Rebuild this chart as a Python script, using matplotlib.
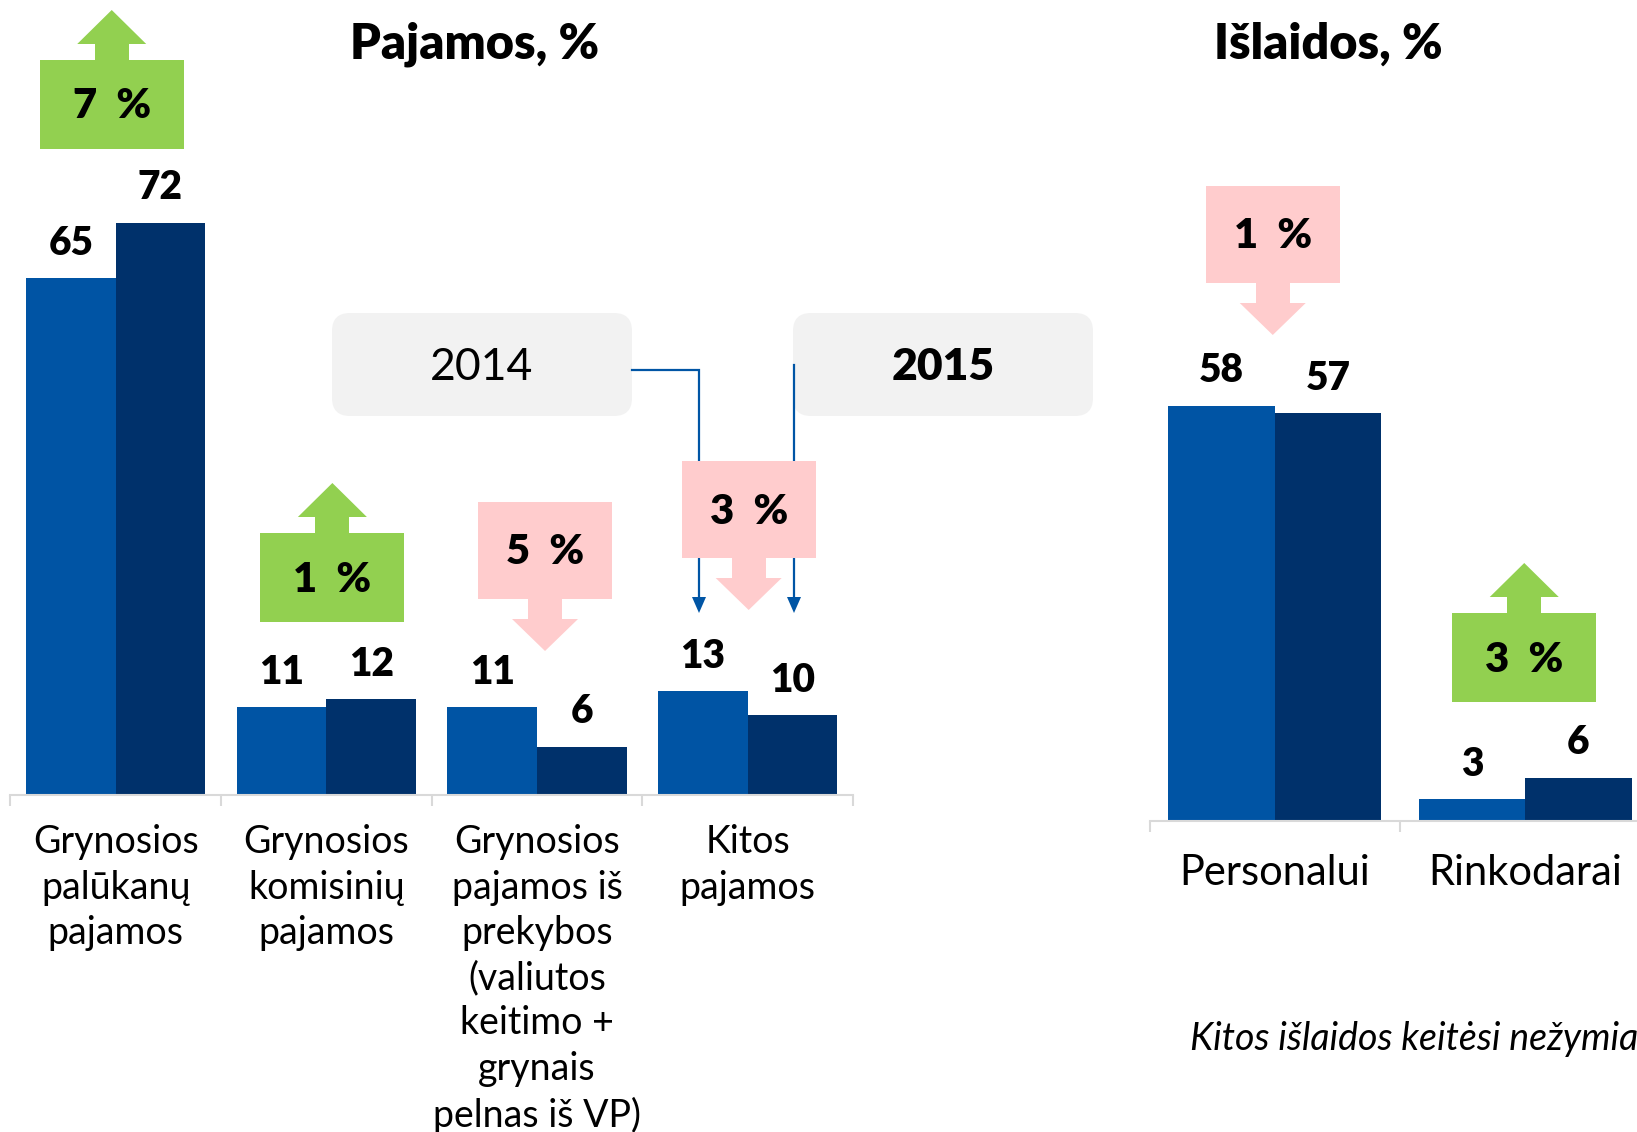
import matplotlib
matplotlib.use("Agg")
import matplotlib.pyplot as plt
from matplotlib.patches import Polygon, Rectangle, FancyBboxPatch
import numpy as np

plt.rcParams['font.family'] = ['Lato', 'DejaVu Sans']

# ---------------- data ----------------
income_categories = ["Grynosios\npalūkanų\npajamos",
                     "Grynosios\nkomisinių\npajamos",
                     "Grynosios\npajamos iš\nprekybos\n(valiutos\nkeitimo +\ngrynais\npelnas iš VP)",
                     "Kitos\npajamos"]
income_2014 = [65, 11, 11, 13]
income_2015 = [72, 12, 6, 10]
income_change = ["7 %", "1 %", "5 %", "3 %"]
income_dir = ["up", "up", "down", "down"]

expense_categories = ["Personalui", "Rinkodarai"]
expense_2014 = [58, 3]
expense_2015 = [57, 6]
expense_change = ["1 %", "3 %"]
expense_dir = ["down", "up"]

years = ["2014", "2015"]
titles = ["Pajamos, %", "Išlaidos, %"]
note = "Kitos išlaidos keitėsi nežymiai"

# ---------------- style ----------------
W, H = 1637, 1132
C14 = "#0054A4"
C15 = "#00316B"
GREEN = "#92D050"
PINK = "#FFCCCD"
AXC = "#D9D9D9"
LINEC = "#0055A5"
BW = 0.425
HEAVY = "heavy"

fig = plt.figure(figsize=(W / 100, H / 100), dpi=100)

def fx(px):
    return px / W

def fy(py_top):
    return (H - py_top) / H

# income axes: x 10.4..853 px, baseline 794.5 px, 7.94 px/unit
ax1 = fig.add_axes([fx(10.4), fy(794.5), (853 - 10.4) / W, 794 / H])
# expense axes: x 1149.5..1650.5 px, baseline 820.6 px, 7.15 px/unit
ax2 = fig.add_axes([fx(1149.5), fy(820.6), 501 / W, 715 / H])


def draw_bars(ax, cats, v14, v15, fs, pad, ls):
    x = np.arange(len(cats))
    ax.bar(x - BW / 2, v14, BW, color=C14, zorder=2)
    ax.bar(x + BW / 2, v15, BW, color=C15, zorder=2)
    for xi, a, b in zip(x, v14, v15):
        ax.annotate(str(a), (xi - BW / 2, a), xytext=(0, 35), textcoords="offset pixels",
                    ha="center", va="center", fontsize=28, fontweight=HEAVY, color="black")
        ax.annotate(str(b), (xi + BW / 2, b), xytext=(0, 35), textcoords="offset pixels",
                    ha="center", va="center", fontsize=28, fontweight=HEAVY, color="black")
    ax.set_xlim(-0.5, len(cats) - 0.5)
    ax.set_ylim(0, 100)
    for s in ["top", "left", "right"]:
        ax.spines[s].set_visible(False)
    ax.spines["bottom"].set_color(AXC)
    ax.spines["bottom"].set_linewidth(1.5)
    ax.set_yticks([])
    ax.set_xticks(x)
    ax.set_xticklabels(cats, fontsize=fs, linespacing=ls)
    ax.tick_params(axis="x", which="major", length=0, pad=pad, colors="black")
    ax.set_xticks(np.arange(len(cats) + 1) - 0.5, minor=True)
    ax.tick_params(axis="x", which="minor", length=8, width=1.5, color=AXC, direction="out")
    ax.patch.set_alpha(0)


draw_bars(ax1, income_categories, income_2014, income_2015, 27, 21.5, 1.32)
draw_bars(ax2, expense_categories, expense_2014, expense_2015, 30, 24, 1.32)

# ---------------- overlay for annotations ----------------
ov = fig.add_axes([0, 0, 1, 1])
ov.set_xlim(0, W)
ov.set_ylim(H, 0)
ov.axis("off")


def xpix(ax, x):
    return ax.transData.transform((x, 0))[0]


def block_arrow(cx, top, direction, label):
    if direction == "up":
        bw, bh, sw, sh, hw, hh = 144, 89, 34, 16, 69, 34
        col = GREEN
        ov.add_patch(Rectangle((cx - bw / 2, top), bw, bh, color=col, lw=0, zorder=3))
        ov.add_patch(Rectangle((cx - sw / 2, top - sh), sw, sh + 1, color=col, lw=0, zorder=3))
        ov.add_patch(Polygon([(cx - hw / 2, top - sh), (cx + hw / 2, top - sh), (cx, top - sh - hh)],
                             closed=True, color=col, lw=0, zorder=3))
    else:
        bw, bh, sw, sh, hw, hh = 134, 97, 34, 20, 66, 32
        col = PINK
        ov.add_patch(Rectangle((cx - bw / 2, top), bw, bh, color=col, lw=0, zorder=3))
        ov.add_patch(Rectangle((cx - sw / 2, top + bh - 1), sw, sh + 1, color=col, lw=0, zorder=3))
        ov.add_patch(Polygon([(cx - hw / 2, top + bh + sh), (cx + hw / 2, top + bh + sh), (cx, top + bh + sh + hh)],
                             closed=True, color=col, lw=0, zorder=3))
    ov.text(cx, top + bh / 2 + 2, label.replace(" ", "  "), ha="center", va="center", fontsize=30,
            fontweight=HEAVY, color="black", zorder=4)


income_box_tops = [60, 533, 502, 461]
income_box_dx = [-4, 6, 8, 1]
expense_box_tops = [186, 613]
expense_box_dx = [-2, -1]
for i, (lab, d) in enumerate(zip(income_change, income_dir)):
    block_arrow(xpix(ax1, i) + income_box_dx[i], income_box_tops[i], d, lab)
for i, (lab, d) in enumerate(zip(expense_change, expense_dir)):
    block_arrow(xpix(ax2, i) + expense_box_dx[i], expense_box_tops[i], d, lab)

# titles
ov.text(475, 44, titles[0], ha="center", va="center", fontsize=35, fontweight=HEAVY, color="black")
ov.text(1328, 44, titles[1], ha="center", va="center", fontsize=35, fontweight=HEAVY, color="black")

# legend boxes
for (x0, lab, wt) in [(332, years[0], "normal"), (793, years[1], HEAVY)]:
    ov.add_patch(FancyBboxPatch((x0, 313), 300, 103, boxstyle="round,pad=0,rounding_size=18",
                                fc="#F2F2F2", ec="none", zorder=1))
    ov.text(x0 + 150, 367, lab, ha="center", va="center", fontsize=32, fontweight=wt,
            color="black", zorder=2)

# connectors
ov.plot([632, 699, 699], [370, 370, 600], color=LINEC, lw=1.6, zorder=2, solid_joinstyle="miter")
ov.plot([794, 794], [365, 600], color=LINEC, lw=1.6, zorder=2)
for xc in (699, 794):
    ov.add_patch(Polygon([(xc - 7, 597), (xc + 7, 597), (xc, 613)], closed=True,
                         color=LINEC, lw=0, zorder=2))

# note (runs off the right edge, as in the reference)
ov.text(1190, 1039, note, ha="left", va="center", fontsize=27, style="italic", color="black")

fig.savefig("out.png", dpi=100)
